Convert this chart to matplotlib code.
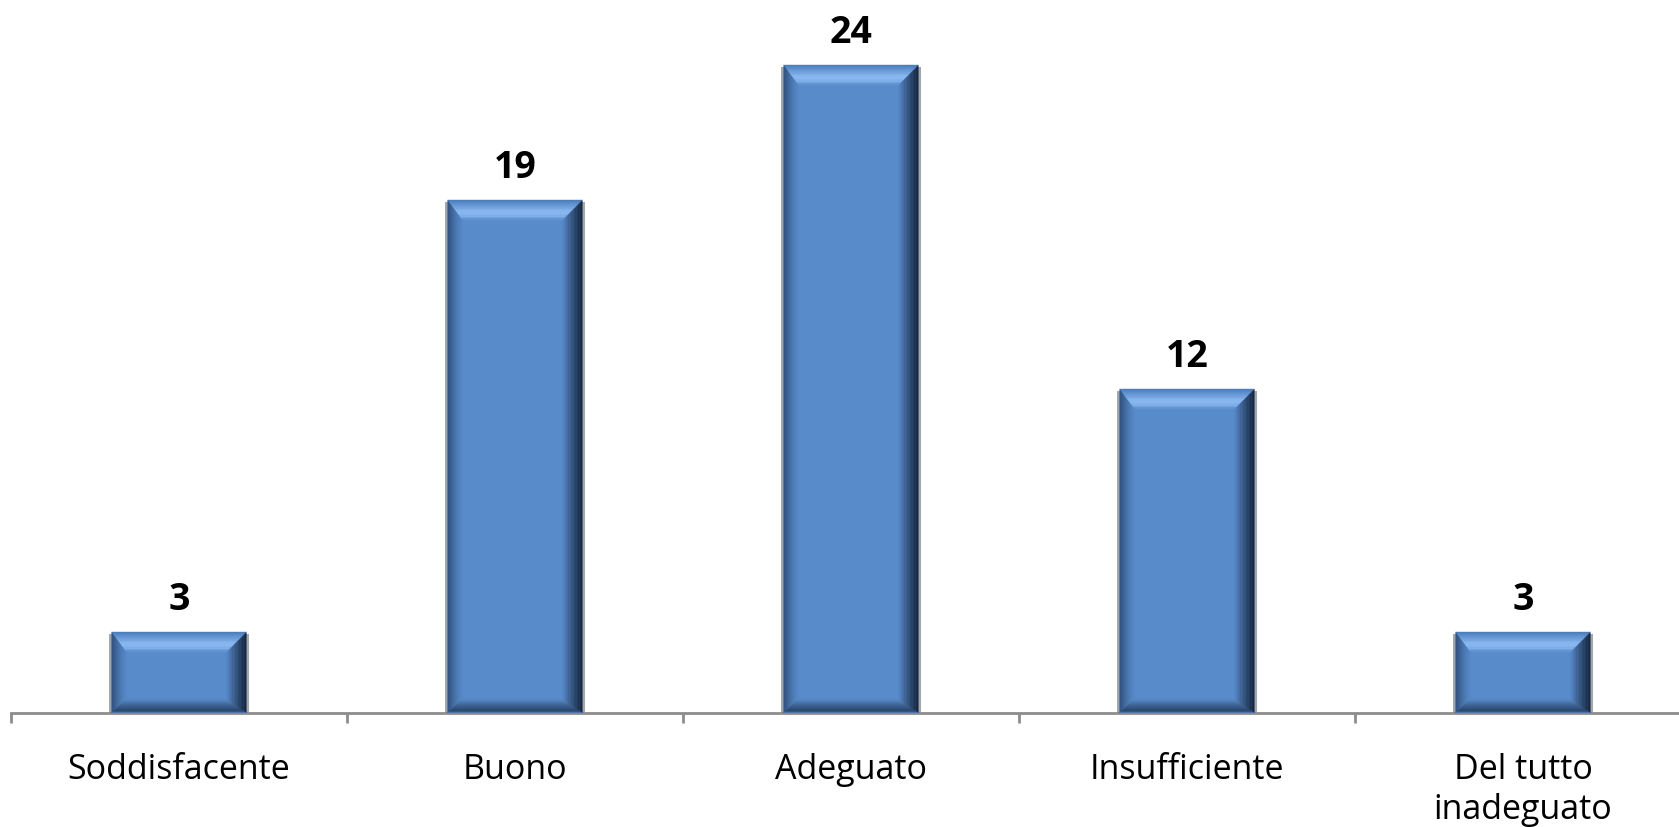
import numpy as np
import matplotlib
matplotlib.use("Agg")
import matplotlib.pyplot as plt
from matplotlib.patches import Polygon, Rectangle
from matplotlib.colors import to_rgb

categories = ["Soddisfacente", "Buono", "Adeguato", "Insufficiente", "Del tutto\ninadeguato"]
values = [3, 19, 24, 12, 3]

W, H, DPI = 1679, 828, 100
fig = plt.figure(figsize=(W / DPI, H / DPI), dpi=DPI)
ax_left_px, ax_bottom_px = 11, 828 - 714
cat_px = 336
ax = fig.add_axes([ax_left_px / W, ax_bottom_px / H, 5 * cat_px / W, 714 / H])
px_per_unit = 27.0
ax.set_xlim(-0.5, len(categories) - 0.5)
ax.set_ylim(0, 714 / px_per_unit)

for s in ["top", "right", "left"]:
    ax.spines[s].set_visible(False)
ax.spines["bottom"].set_color("#8c8c8c")
ax.spines["bottom"].set_linewidth(2)
ax.set_yticks([])

x = np.arange(len(categories))
face = "#588BCA"
bars = ax.bar(x, values, width=0.4, color=face, zorder=3, linewidth=0)

ax.set_xticks(x, labels=categories)
ax.set_xticks(np.arange(len(categories) + 1) - 0.5, minor=True)
ax.tick_params(axis="x", which="major", length=0, pad=28.0, labelsize=24.5)
ax.tick_params(axis="x", which="minor", length=7.5, width=2, color="#8c8c8c")
for lab in ax.get_xticklabels():
    lab.set_fontfamily(["Open Sans", "DejaVu Sans"])
    lab.set_verticalalignment("top")
    lab.set_linespacing(1.25)

def interp(stops, t):
    ts = [s[0] for s in stops]
    cs = [np.array(to_rgb(s[1])) for s in stops]
    for i in range(len(ts) - 1):
        if ts[i] <= t <= ts[i + 1]:
            f = (t - ts[i]) / (ts[i + 1] - ts[i]) if ts[i + 1] > ts[i] else 0
            return tuple(cs[i] * (1 - f) + cs[i + 1] * f)
    return tuple(cs[-1])

top_stops = [(0, "#4A79B6"), (0.2, "#5F90CF"), (0.6, "#8DBBF3"), (0.85, "#7FAEE8"), (1, face)]
left_stops = [(0, "#2E4E78"), (0.3, "#3F669A"), (0.7, "#4F7DB8"), (1, face)]
right_stops = [(0, "#14233A"), (0.3, "#243E5E"), (0.7, "#40669A"), (1, face)]
bot_stops = [(0, "#5C8CCB"), (0.15, "#2B4669"), (0.5, "#3A5D8B"), (1, face)]

inv = ax.transData.inverted()
N = 14
wl, wr, wt, wb = 15, 20, 20, 14
for b in bars:
    (x0, y0) = ax.transData.transform((b.get_x(), b.get_y()))
    (x1, y1) = ax.transData.transform((b.get_x() + b.get_width(), b.get_y() + b.get_height()))
    g0 = inv.transform((x0 - 3, y0))
    g1 = inv.transform((x1 + 3, y1 - 2))
    ax.add_patch(Rectangle(g0, g1[0] - g0[0], g1[1] - g0[1], color="#A0A6AE", zorder=2, lw=0))
    for k in range(N):
        a, c = k / N, (k + 1) / N
        tm = (a + c) / 2
        def P(pts):
            return inv.transform(np.array(pts))
        left = [(x0 + a * wl, y0 + a * wb), (x0 + c * wl, y0 + c * wb),
                (x0 + c * wl, y1 - c * wt), (x0 + a * wl, y1 - a * wt)]
        right = [(x1 - a * wr, y0 + a * wb), (x1 - c * wr, y0 + c * wb),
                 (x1 - c * wr, y1 - c * wt), (x1 - a * wr, y1 - a * wt)]
        top = [(x0 + a * wl, y1 - a * wt), (x0 + c * wl, y1 - c * wt),
               (x1 - c * wr, y1 - c * wt), (x1 - a * wr, y1 - a * wt)]
        bot = [(x0 + a * wl, y0 + a * wb), (x0 + c * wl, y0 + c * wb),
               (x1 - c * wr, y0 + c * wb), (x1 - a * wr, y0 + a * wb)]
        for pts, st in ((left, left_stops), (right, right_stops), (top, top_stops), (bot, bot_stops)):
            ax.add_patch(Polygon(P(pts), closed=True, facecolor=interp(st, tm),
                                 edgecolor=interp(st, tm), lw=0.3, zorder=4))

for xi, v in zip(x, values):
    ax.annotate(str(v), (xi, v), xytext=(0, 16.6), textcoords="offset points",
                ha="center", va="baseline", fontsize=27, fontweight="bold",
                family=["Open Sans", "DejaVu Sans"], color="black")

fig.savefig("out.png", dpi=DPI)
